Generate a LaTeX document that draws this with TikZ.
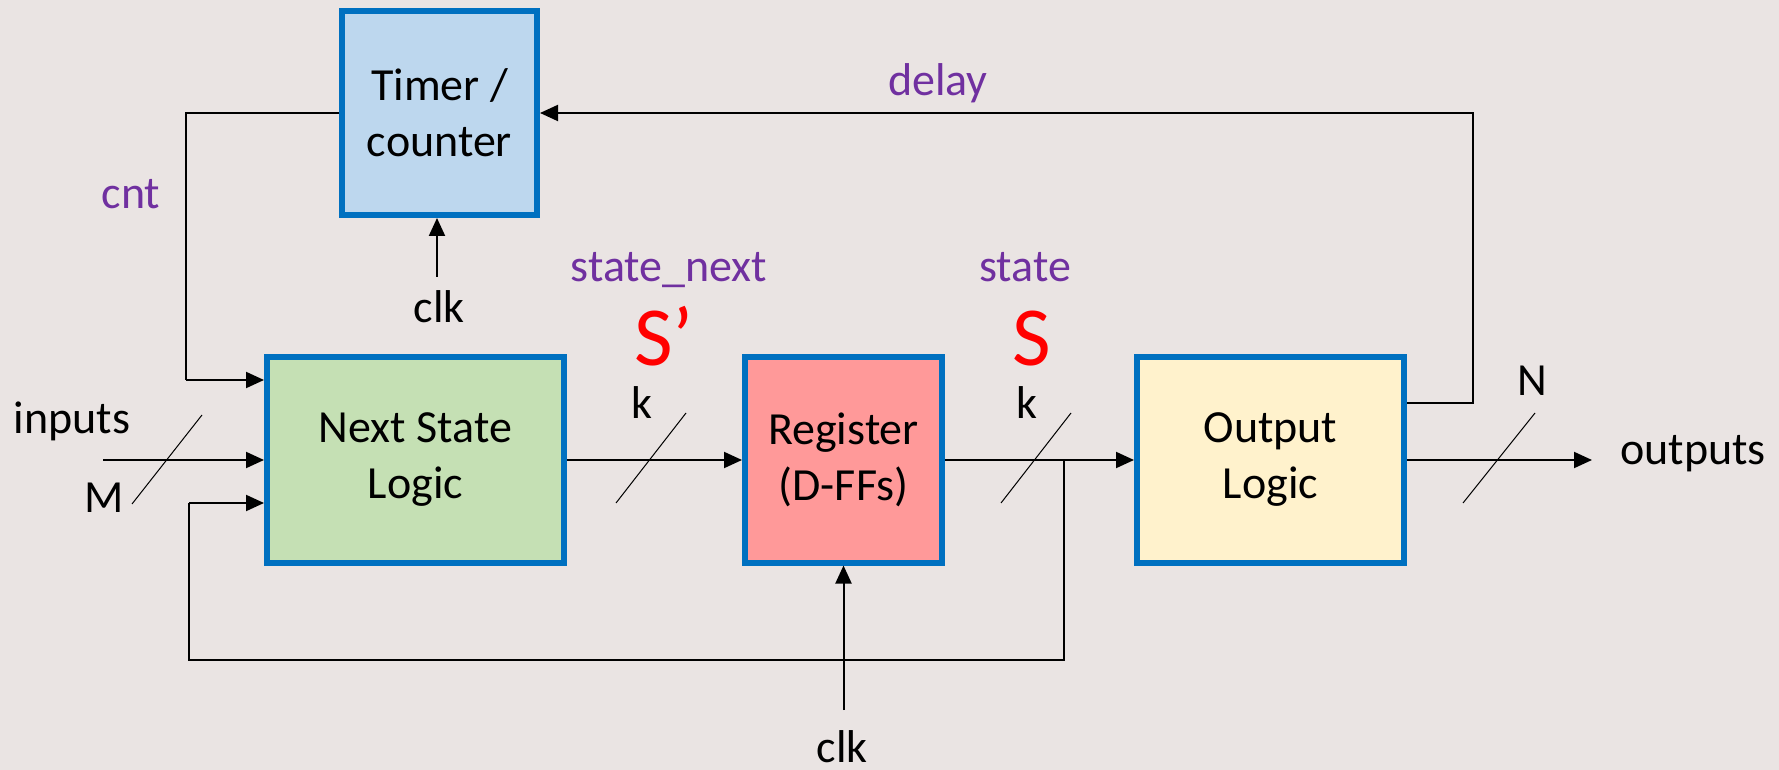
\documentclass[tikz,border=0pt]{standalone}
\usepackage{fontspec}
\setmainfont{Carlito}
\usetikzlibrary{arrows.meta,calc}
\definecolor{bg}{RGB}{234,228,227}
\definecolor{bordblue}{RGB}{0,112,192}
\definecolor{tblue}{RGB}{189,215,238}
\definecolor{ngreen}{RGB}{197,224,180}
\definecolor{rpink}{RGB}{255,153,153}
\definecolor{oyellow}{RGB}{255,242,204}
\definecolor{lblpurple}{RGB}{112,48,160}
\begin{document}
\begin{tikzpicture}[x=0.5pt,y=-0.5pt,
  block/.style={draw=bordblue, line width=3pt, align=center, inner sep=0pt,
    font=\fontsize{23}{28}\selectfont},
  sig/.style={line width=1pt, -{Triangle[length=9pt,width=8pt]}},
  thickwire/.style={line width=1pt},
  thinwire/.style={line width=0.6pt},
  slashline/.style={line width=0.5pt},
  lbl/.style={inner sep=0pt, anchor=base, font=\fontsize{23}{28}\selectfont},
  plbl/.style={lbl, text=lblpurple},
  bigS/.style={inner sep=0pt, anchor=base, text=red, font=\fontsize{42}{50}\selectfont}]
\fill[bg] (0,0) rectangle (1779,770);
\useasboundingbox (0,0) rectangle (1779,770);

% blocks
\node[block, fill=tblue, minimum width=97.5pt, minimum height=102pt] (timer) at (439.5,113) {Timer /\\counter};
\node[block, fill=ngreen, minimum width=148.5pt, minimum height=102.5pt] (nsl) at (415.5,460) {Next State\\Logic};
\node[block, fill=rpink, minimum width=98.5pt, minimum height=102.5pt] (reg) at (843.5,460) {Register\\(D-FFs)};
\node[block, fill=oyellow, minimum width=133.5pt, minimum height=102.5pt] (out) at (1270.5,460) {Output\\Logic};

% coordinates
\coordinate (cntA) at (186,380);
\coordinate (inA) at (103,460);
\coordinate (fbA) at (189,503);
\coordinate (fbB) at (189,660);
\coordinate (fbC) at (1064,660);
\coordinate (dcorner) at (1473,113);
\coordinate (clkT) at (437,277);
\coordinate (clkB) at (843.5,710);
\coordinate (outE) at (1592,460);

% connectors
\draw[thinwire] (timer.west) -| (cntA);
\draw[sig] (cntA) -- (cntA -| nsl.west);
\draw[sig] (inA) -- (nsl.west);
\draw[thinwire] (fbC |- reg.east) -- (fbC) -- (fbB) -- (fbA);
\draw[sig] (fbA) -- (fbA -| nsl.west);
\draw[sig] (nsl.east) -- (reg.west);
\draw[sig] (reg.east) -- (out.west);
\draw[sig] (out.east) -- (outE);
\draw[sig] ([yshift=28.5pt]out.east) -| (dcorner) -- (timer.east);
\draw[sig] (clkT) -- (clkT |- timer.south);
\draw[sig] (clkB) -- (reg.south);

% bus slashes
\draw[slashline] (202,415) -- (132,504);
\draw[slashline] (686,413) -- (616,503);
\draw[slashline] (1071,413) -- (1001,503);
\draw[slashline] (1535,413) -- (1463,503);

% labels
\node[plbl] (lcnt) at (131,209) {cnt};
\node[plbl] (ldelay) at (938,96) {delay};
\node[plbl] (lsn) at (669,282) {state\_next};
\node[plbl] (lst) at (1025,282) {state};
\node[bigS] (lsp) at (664,365) {S’};
\node[bigS] (ls) at (1032,365) {S};
\node[lbl] (lclkt) at (439,323) {clk};
\node[lbl] (lclkb) at (842,762) {clk};
\node[lbl] (lk1) at (642,418) {k};
\node[lbl] (lk2) at (1027,418) {k};
\node[lbl] (lN) at (1532,395) {N};
\node[lbl] (lin) at (72,433) {inputs};
\node[lbl] (lM) at (104,512) {M};
\node[lbl] (lout) at (1693,465) {outputs};
\end{tikzpicture}
\end{document}
